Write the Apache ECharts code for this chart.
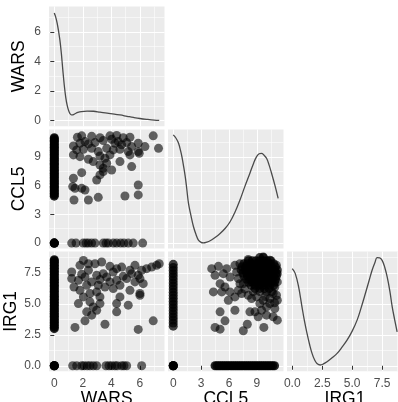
<!DOCTYPE html>
<html>
<head>
<meta charset="utf-8">
<script src="https://cdn.jsdelivr.net/npm/echarts@6/dist/echarts.min.js"></script>
<style>
  html, body { margin: 0; padding: 0; background: #fff; }
  #chart { width: 398px; height: 402px; }
</style>
</head>
<body>
<div id="chart"></div>
<script>
// Scatterplot matrix (lower triangle + density on the diagonal)

// tick labels per variable
const warsTicks = [0, 2, 4, 6];
const warsMinor = [1, 3, 5, 7];
const ccl5Ticks = [0, 3, 6, 9];
const ccl5Minor = [1.5, 4.5, 7.5, 10.5];
const irg1Ticks = [0, 2.5, 5, 7.5];
const irg1Minor = [1.25, 3.75, 6.25, 8.75];

// density curves (rescaled to the variable range, as ggpairs does)
const warsDensity = [[0, 7.28], [0.1, 7.0], [0.2, 6.6], [0.3, 6.05], [0.4, 5.4], [0.5, 4.5], [0.6, 3.4],
  [0.7, 2.4], [0.8, 1.6], [0.9, 1.05], [1.0, 0.7], [1.1, 0.48], [1.2, 0.39], [1.3, 0.4], [1.45, 0.47],
  [1.65, 0.56], [1.9, 0.62], [2.3, 0.65], [2.75, 0.64], [3.2, 0.58], [3.7, 0.51], [4.2, 0.45], [4.6, 0.39],
  [5.1, 0.3], [5.55, 0.22], [6.0, 0.15], [6.5, 0.09], [7.0, 0.04], [7.35, 0.02]];
const ccl5Density = [[0, 11.3], [0.3, 10.95], [0.57, 10.43], [0.8, 9.6], [0.93, 9.03], [1.1, 8.1], [1.29, 6.94],
  [1.45, 5.7], [1.64, 4.15], [1.9, 2.9], [2.18, 1.71], [2.45, 0.9], [2.71, 0.31], [3.0, 0.08], [3.25, 0.03],
  [3.6, 0.1], [3.97, 0.24], [4.5, 0.58], [5.04, 1.0], [5.6, 1.55], [6.1, 2.2], [6.65, 3.25], [7.18, 4.5],
  [7.7, 5.9], [8.25, 7.3], [8.65, 8.35], [8.97, 9.03], [9.25, 9.33], [9.5, 9.38], [9.75, 9.2], [10.04, 8.86],
  [10.3, 8.2], [10.58, 7.3], [10.95, 6.0], [11.29, 4.68]];
const irg1Density = [[0, 7.85], [0.25, 7.45], [0.53, 6.37], [0.81, 4.76], [1.02, 3.6], [1.23, 2.61], [1.45, 1.7],
  [1.65, 1.0], [1.85, 0.5], [2.06, 0.19], [2.34, 0.06], [2.6, 0.15], [2.9, 0.32], [3.3, 0.62], [3.74, 1.0],
  [4.15, 1.5], [4.57, 2.07], [5.0, 2.8], [5.41, 3.69], [5.75, 4.7], [6.1, 5.84], [6.4, 6.85], [6.66, 7.72],
  [6.9, 8.35], [7.08, 8.74], [7.3, 8.72], [7.5, 8.52], [7.72, 7.95], [7.92, 7.18], [8.15, 6.0], [8.34, 4.76],
  [8.55, 3.7], [8.75, 2.74]];

// cells where every gene is zero
const originPoints = [[0, 0], [0, 0], [0, 0], [0, 0]];

// WARS vs CCL5
const ccl5AtWarsZero = [4.9, 5.05, 5.2, 5.35, 5.5, 5.65, 5.8, 5.95, 6.1, 6.25, 6.4, 6.55, 6.7, 6.85, 7.0, 7.15,
  7.3, 7.45, 7.6, 7.75, 7.9, 8.05, 8.2, 8.35, 8.5, 8.65, 8.8, 8.95, 9.1, 9.25, 9.4, 9.55, 9.7, 9.85, 10.0,
  10.15, 10.3, 10.45, 10.6, 10.75, 10.9, 11.0];
const warsAtCcl5Zero = [1.22, 1.52, 2.03, 2.22, 2.39, 2.62, 2.85, 3.43, 3.62, 3.79, 4.13, 4.37, 4.65, 4.88, 5.18, 5.53, 6.19];
const warsCcl5 = [[1.62, 11.05], [1.92, 11.2], [2.62, 11.15], [3.2, 11.0], [3.9, 11.2], [4.37, 11.25], [4.83, 11.0],
  [5.3, 11.05], [6.93, 11.2], [1.34, 10.15], [1.8, 10.43], [2.15, 10.6], [2.39, 10.36], [2.85, 10.5], [3.43, 10.71],
  [4.02, 10.85], [4.25, 10.43], [4.48, 10.6], [4.72, 10.26], [5.07, 10.5], [5.42, 10.08], [5.88, 10.43], [6.35, 10.08],
  [7.3, 9.9], [1.57, 9.73], [2.04, 9.8], [2.62, 9.9], [3.08, 9.56], [3.67, 9.9], [4.13, 9.73], [4.6, 9.8], [5.18, 9.56],
  [5.88, 9.56], [1.34, 9.21], [1.8, 9.03], [2.39, 8.76], [2.73, 8.51], [3.2, 9.1], [3.55, 8.86], [3.9, 9.21], [4.6, 8.51],
  [5.3, 9.21], [5.95, 9.38], [3.2, 8.16], [3.43, 7.82], [3.67, 8.34], [4.02, 7.64], [5.42, 7.99], [1.92, 7.36],
  [1.34, 6.77], [2.97, 6.59], [3.2, 7.12], [3.43, 7.47], [1.45, 5.72], [1.29, 5.9], [1.92, 5.72], [2.15, 5.55],
  [2.39, 4.5], [1.38, 4.5], [3.08, 4.78], [4.95, 4.92], [5.88, 5.03], [5.88, 6.07]];

// WARS vs IRG1
const irg1AtWarsZero = [3.0, 3.12, 3.25, 3.38, 3.5, 3.62, 3.75, 3.88, 4.0, 4.12, 4.25, 4.38, 4.5, 4.62, 4.75,
  4.88, 5.0, 5.12, 5.25, 5.38, 5.5, 5.62, 5.75, 5.88, 6.0, 6.12, 6.25, 6.38, 6.5, 6.62, 6.75, 6.88, 7.0, 7.12,
  7.25, 7.38, 7.5, 7.62, 7.75, 7.88, 8.0, 8.12, 8.25, 8.38, 8.5, 8.58];
const warsAtIrg1Zero = [1.29, 1.57, 1.92, 2.08, 2.31, 2.5, 2.73, 2.97, 3.62, 3.83, 4.02, 4.25, 4.41, 4.72, 4.88, 5.07, 6.12];
const warsIrg1 = [[1.8, 8.12], [2.04, 8.52], [2.39, 8.25], [2.85, 8.25], [3.32, 8.39], [3.9, 8.04], [4.37, 7.85],
  [4.72, 7.98], [5.3, 7.72], [5.65, 8.12], [5.88, 7.31], [6.12, 7.72], [6.47, 7.85], [6.82, 7.98], [7.17, 8.12],
  [7.35, 8.25], [1.22, 7.58], [1.22, 7.05], [1.69, 6.91], [1.92, 7.4], [2.15, 7.18], [2.39, 7.72], [2.62, 6.78],
  [2.97, 7.31], [3.08, 6.51], [3.2, 6.97], [3.43, 7.45], [3.67, 7.18], [3.9, 6.78], [4.13, 7.58], [4.37, 6.91],
  [4.6, 6.51], [4.83, 7.23], [5.07, 7.05], [5.42, 7.45], [5.65, 6.78], [6.0, 7.05], [6.23, 6.64], [1.38, 6.37],
  [1.8, 6.1], [2.27, 6.51], [2.5, 5.84], [2.97, 5.97], [3.2, 5.57], [3.55, 6.37], [4.13, 6.24], [4.6, 5.57],
  [5.3, 6.1], [6.0, 5.84], [1.69, 5.03], [2.04, 5.57], [2.5, 5.17], [2.73, 4.76], [3.2, 5.03], [4.37, 5.03],
  [5.18, 4.9], [6.0, 5.7], [2.27, 4.36], [2.62, 4.09], [2.97, 4.49], [4.37, 4.36], [1.45, 3.1], [2.15, 3.63],
  [3.55, 3.36], [5.88, 2.94], [6.93, 3.63]];

// CCL5 vs IRG1
const irg1AtCcl5Zero = [3.2, 3.45, 3.7, 3.95, 4.2, 4.45, 4.7, 4.95, 5.2, 5.45, 5.7, 5.95, 6.2, 6.45, 6.7, 6.95,
  7.2, 7.45, 7.7, 7.95, 8.2];
const ccl5AtIrg1Zero = [4.5, 4.7, 4.9, 5.1, 5.3, 5.5, 5.7, 5.9, 6.1, 6.3, 6.5, 6.7, 6.9, 7.1, 7.3, 7.5, 7.7,
  7.9, 8.1, 8.3, 8.5, 8.7, 8.9, 9.1, 9.3, 9.5, 9.7, 9.9, 10.1, 10.3, 10.5, 10.7, 10.9];
// dense blob: IRG1 level -> CCL5 values seen at that level
const blobIrg1 = [8.75, 8.5, 8.25, 8.0, 7.75, 7.5, 7.25, 7.0, 6.75, 6.5, 6.25];
const blobCcl5 = [
  [9.3, 9.7],
  [8.1, 8.5, 8.9, 9.3, 9.7, 10.1, 10.5],
  [7.6, 8.0, 8.4, 8.8, 9.2, 9.6, 10.0, 10.4, 10.8],
  [7.4, 7.8, 8.2, 8.6, 9.0, 9.4, 9.8, 10.2, 10.6, 11.0],
  [7.3, 7.7, 8.1, 8.5, 8.9, 9.3, 9.7, 10.1, 10.5, 10.9, 11.2],
  [7.5, 7.9, 8.3, 8.7, 9.1, 9.5, 9.9, 10.3, 10.7, 11.1],
  [7.6, 8.0, 8.4, 8.8, 9.2, 9.6, 10.0, 10.4, 10.8, 11.1],
  [7.9, 8.3, 8.7, 9.1, 9.5, 9.9, 10.3, 10.7, 11.0],
  [8.1, 8.5, 8.9, 9.3, 9.7, 10.1, 10.5, 10.9],
  [8.4, 8.8, 9.2, 9.6, 10.0, 10.4, 10.8],
  [8.8, 9.3, 9.8, 10.3]
];
const ccl5Irg1 = [[9.32, 6.0], [10.04, 5.97], [10.75, 5.84], [11.11, 5.7], [10.39, 5.43], [11.2, 5.3], [9.68, 5.3],
  [8.97, 5.57], [8.43, 5.43], [8.07, 5.7], [9.32, 5.03], [10.04, 4.76], [10.39, 5.03], [10.93, 4.63], [9.5, 4.49],
  [8.79, 4.36], [8.25, 4.36], [9.14, 3.96], [10.04, 4.09], [10.75, 3.96], [11.2, 3.69], [7.97, 3.36], [9.75, 3.1],
  [7.54, 2.83], [4.14, 7.85], [4.86, 8.04], [4.5, 7.31], [5.39, 7.45], [5.75, 7.85], [6.11, 7.18], [6.64, 8.12],
  [6.82, 7.58], [7.18, 8.25], [5.04, 6.64], [5.57, 6.37], [4.32, 5.97], [5.22, 5.97], [6.11, 5.97], [5.93, 5.3],
  [6.64, 5.57], [7.0, 6.1], [7.36, 5.84], [7.54, 6.64], [5.04, 4.36], [6.64, 4.49], [5.57, 3.63], [4.5, 3.1],
  [5.04, 2.96], [9.68, 8.8], [8.07, 8.6], [10.39, 8.53], [11.11, 8.12], [11.2, 7.45], [11.2, 6.78], [10.93, 6.37],
  [7.0, 7.05], [7.18, 6.64], [10.6, 6.0], [9.9, 5.6], [8.6, 6.0], [10.9, 5.1], [7.7, 6.2]];

// axis set-up per variable
const vars = {
  WARS: { min: -0.37, max: 7.72, ticks: warsTicks, minor: warsMinor, digits: 0 },
  CCL5: { min: -0.565, max: 11.865, ticks: ccl5Ticks, minor: ccl5Minor, digits: 0 },
  IRG1: { min: -0.44, max: 9.24, ticks: irg1Ticks, minor: irg1Minor, digits: 1 }
};

const cols = [{ left: 49, width: 115.5 }, { left: 168, width: 115.5 }, { left: 287, width: 116 }];
const rows = [{ top: 6.5, height: 119.7 }, { top: 129.5, height: 119 }, { top: 251.5, height: 119.7 }];
const names = ['WARS', 'CCL5', 'IRG1'];

const font = '"Liberation Sans", Arial, sans-serif';

function majorAxis(gridIndex, v, showLabels, name, isY) {
  return {
    type: 'value',
    gridIndex: gridIndex,
    min: v.min,
    max: v.max,
    axisLine: { show: false },
    axisTick: { show: showLabels, length: 4, customValues: v.ticks, lineStyle: { color: '#333333', width: 1 } },
    axisLabel: {
      show: showLabels,
      customValues: v.ticks,
      margin: isY ? 8 : 6,
      color: '#4D4D4D',
      fontSize: 12,
      fontFamily: font,
      formatter: (val) => val.toFixed(v.digits)
    },
    splitLine: { show: true, lineStyle: { color: '#FFFFFF', width: 1.1 } },
    name: name || '',
    nameLocation: 'middle',
    nameGap: isY ? 21 : 7,
    nameTextStyle: { fontSize: 17.5, color: '#000000', fontFamily: font }
  };
}

function minorAxis(gridIndex, v) {
  return {
    type: 'value',
    gridIndex: gridIndex,
    min: v.min,
    max: v.max,
    axisLine: { show: false },
    axisTick: { show: false, customValues: v.minor },
    axisLabel: { show: false, customValues: v.minor },
    splitLine: { show: true, lineStyle: { color: '#FFFFFF', width: 0.55 } }
  };
}

// lower triangle + diagonal
const panels = [[0, 0], [1, 0], [1, 1], [2, 0], [2, 1], [2, 2]];

const grids = [];
const xAxes = [];
const yAxes = [];
panels.forEach(([r, c], i) => {
  grids.push({
    left: cols[c].left, width: cols[c].width,
    top: rows[r].top, height: rows[r].height,
    show: true, backgroundColor: '#EBEBEB', borderWidth: 0,
    containLabel: false, outerBoundsMode: 'none'
  });
  const xv = vars[names[c]];
  const yv = vars[names[r]];
  const bottomRow = r === 2;
  const leftCol = c === 0;
  xAxes.push(majorAxis(i, xv, bottomRow, bottomRow ? names[c] : '', false));
  xAxes.push(minorAxis(i, xv));
  yAxes.push(majorAxis(i, yv, leftCol, leftCol ? names[r] : '', true));
  yAxes.push(minorAxis(i, yv));
});

function density(i, data) {
  return {
    type: 'line', xAxisIndex: 2 * i, yAxisIndex: 2 * i, data: data,
    showSymbol: false, smooth: 0.4,
    lineStyle: { color: '#4a4a4a', width: 1.3 }
  };
}

// alpha: single cells are see-through, the zero stacks hold many cells each
function scatter(i, data, alpha) {
  return {
    type: 'scatter', xAxisIndex: 2 * i, yAxisIndex: 2 * i, data: data,
    symbol: 'circle', symbolSize: 9,
    itemStyle: { color: '#000000', opacity: alpha }
  };
}

const blobPoints = [];
blobIrg1.forEach((y, k) => blobCcl5[k].forEach((x) => blobPoints.push([x, y])));

const series = [
  density(0, warsDensity),
  scatter(1, warsCcl5, 0.6),
  scatter(1, originPoints.concat(ccl5AtWarsZero.map((v) => [0, v])), 0.85),
  scatter(1, warsAtCcl5Zero.map((v) => [v, 0]), 0.6),
  density(2, ccl5Density),
  scatter(3, warsIrg1, 0.6),
  scatter(3, originPoints.concat(irg1AtWarsZero.map((v) => [0, v])), 0.85),
  scatter(3, warsAtIrg1Zero.map((v) => [v, 0]), 0.6),
  scatter(4, ccl5Irg1, 0.6),
  scatter(4, blobPoints, 0.75),
  scatter(4, irg1AtCcl5Zero.map((v) => [0, v]), 0.75),
  scatter(4, originPoints.concat(ccl5AtIrg1Zero.map((v) => [v, 0])), 0.85),
  density(5, irg1Density)
];

const chart = echarts.init(document.getElementById('chart'));
chart.setOption({
  animation: false,
  backgroundColor: '#FFFFFF',
  grid: grids,
  xAxis: xAxes,
  yAxis: yAxes,
  series: series
});
</script>
</body>
</html>
